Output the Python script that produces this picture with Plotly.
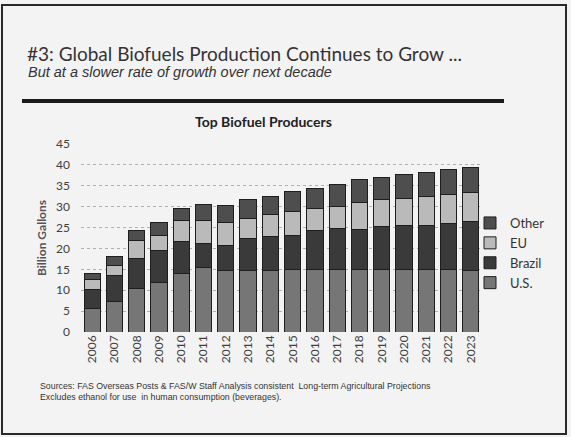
import plotly.graph_objects as go

years = [str(y) for y in range(2006, 2024)]
us =     [5.7, 7.4, 10.4, 11.8, 14.0, 15.5, 14.7, 14.8, 14.8, 15.0, 15.0, 15.0, 15.0, 15.0, 15.0, 15.0, 15.0, 14.8]
brazil = [4.5, 6.2, 7.2, 7.8, 7.6, 5.7, 6.1, 7.6, 8.0, 8.2, 9.4, 9.8, 9.6, 10.2, 10.4, 10.6, 11.0, 11.6]
eu =     [2.4, 2.4, 4.4, 3.4, 5.0, 5.4, 5.3, 4.8, 5.4, 5.6, 5.2, 5.3, 6.4, 6.5, 6.6, 6.9, 6.9, 6.9]
other =  [1.3, 2.0, 2.2, 3.2, 2.9, 4.0, 4.3, 4.4, 4.3, 4.8, 4.8, 5.1, 5.4, 5.3, 5.7, 5.6, 5.9, 6.1]
y_ticks = [0, 5, 10, 15, 20, 25, 30, 35, 40, 45]

W, H = 571, 437
L, R, T, B = 81, 89, 144, 105
PW, PH = W - L - R, H - T - B

def px(x):
    return (x - L) / PW

def py(y):
    return (H - B - y) / PH

fig = go.Figure()
series = [("U.S.", us, "#767676"), ("Brazil", brazil, "#3a3a3a"),
          ("EU", eu, "#bababa"), ("Other", other, "#4e4e4e")]
for name, vals, col in series:
    fig.add_trace(go.Bar(x=years, y=vals, name=name, marker_color=col,
                         marker_line_color="#1e1e1e", marker_line_width=1))

fig.update_layout(
    width=W, height=H, barmode="stack", bargap=0.27,
    margin=dict(l=L, r=R, t=T, b=B, autoexpand=False),
    paper_bgcolor="#f3f3f3", plot_bgcolor="rgba(0,0,0,0)",
    font=dict(family="Lato", color="#404040", size=12),
    showlegend=True,
    legend=dict(x=px(470), y=py(253), xanchor="left", yanchor="middle",
                traceorder="reversed", font=dict(size=13, color="#333333"),
                bgcolor="rgba(0,0,0,0)", itemwidth=30),
    xaxis=dict(tickangle=-90, tickfont=dict(size=12, color="#404040"),
               showline=False, ticks=""),
    yaxis=dict(range=[0, 45], tickvals=y_ticks, showgrid=True,
               gridcolor="#b0b0b0", griddash="dot", gridwidth=1,
               zeroline=False, tickfont=dict(size=12, color="#404040"),
               ticklabelstandoff=10,
               title=dict(text="<b>Billion Gallons</b>", standoff=6,
                          font=dict(size=12, color="#555555"))),
)

annotations = [
    dict(text="#3: Global Biofuels Production Continues to Grow ...", x=px(25), y=py(53),
         xanchor="left", yanchor="middle", font=dict(family="Lato", size=19, color="#333333")),
    dict(text="<i>But at a slower rate of growth over next decade</i>", x=px(26), y=py(72),
         xanchor="left", yanchor="middle", font=dict(family="Liberation Sans", size=14.5, color="#333333")),
    dict(text="<b>Top Biofuel Producers</b>", x=px(263), y=py(121),
         xanchor="center", yanchor="middle", font=dict(family="Lato", size=14, color="#222222")),
    dict(text="Sources: FAS Overseas Posts & FAS/W Staff Analysis consistent  Long-term Agricultural Projections",
         x=px(38), y=py(386), xanchor="left", yanchor="middle",
         font=dict(family="Liberation Sans", size=8.8, color="#333333")),
    dict(text="Excludes ethanol for use  in human consumption (beverages).",
         x=px(38), y=py(397), xanchor="left", yanchor="middle",
         font=dict(family="Liberation Sans", size=8.8, color="#333333")),
]
for a in annotations:
    a.update(xref="paper", yref="paper", showarrow=False)
fig.update_layout(annotations=annotations)

shapes = [
    dict(type="line", x0=px(22), x1=px(504), y0=py(101), y1=py(101),
         line=dict(color="#1a1a1a", width=4)),
    dict(type="rect", x0=px(2), x1=px(566), y0=py(5), y1=py(434),
         line=dict(color="#2a2a2a", width=2)),
]
for s in shapes:
    s.update(xref="paper", yref="paper", layer="above")
fig.update_layout(shapes=shapes)

fig.write_html("out.html", config={"displayModeBar": False},
               post_script="document.body.style.margin='0';")
